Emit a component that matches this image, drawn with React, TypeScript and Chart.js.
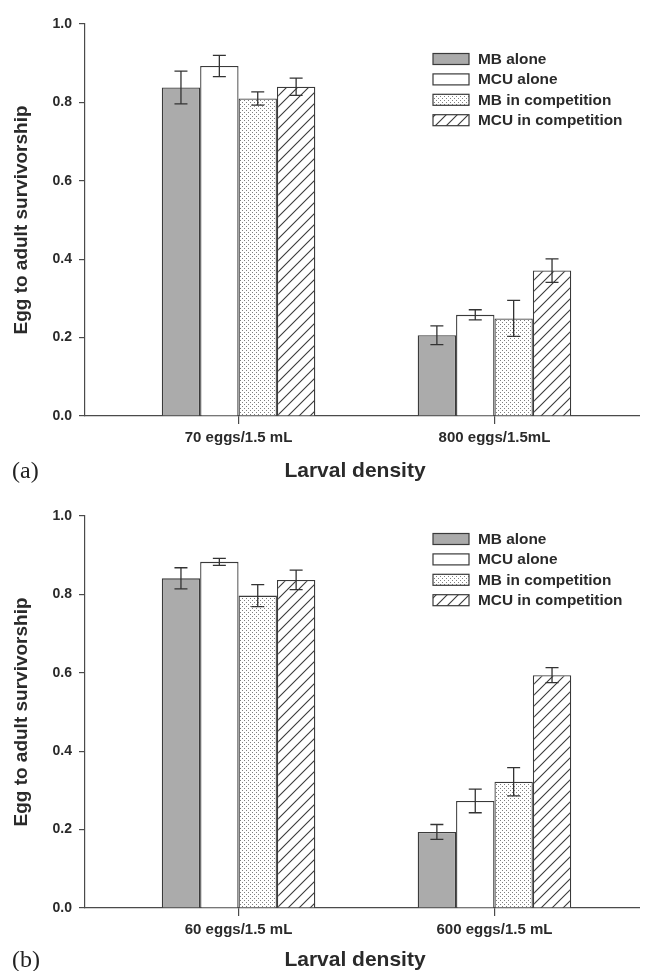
import React, { useEffect, useRef } from 'react';
import { Chart, registerables } from 'chart.js';
Chart.register(...registerables);

const seriesNames = ['MB alone', 'MCU alone', 'MB in competition', 'MCU in competition'];

const categoriesA = ['70 eggs/1.5 mL', '800 eggs/1.5mL'];
const mbAloneA = [0.838, 0.206];
const mcuAloneA = [0.893, 0.258];
const mbCompA = [0.81, 0.249];
const mcuCompA = [0.84, 0.371];
const mbAloneErrA = [0.042, 0.024];
const mcuAloneErrA = [0.027, 0.013];
const mbCompErrA = [0.017, 0.046];
const mcuCompErrA = [0.022, 0.03];

const categoriesB = ['60 eggs/1.5 mL', '600 eggs/1.5 mL'];
const mbAloneB = [0.841, 0.194];
const mcuAloneB = [0.883, 0.273];
const mbCompB = [0.797, 0.322];
const mcuCompB = [0.837, 0.594];
const mbAloneErrB = [0.027, 0.019];
const mcuAloneErrB = [0.009, 0.03];
const mbCompErrB = [0.028, 0.036];
const mcuCompErrB = [0.025, 0.019];

const yMin = 0;
const yMax = 1;
const yStep = 0.2;
const xTitle = 'Larval density';
const yTitle = 'Egg to adult survivorship';

const SANS = "'Liberation Sans', Arial, Helvetica, sans-serif";
const SERIF = "'Liberation Serif', 'Times New Roman', serif";
const INK = '#2a2a2a';
const LINE = '#4a4a4a';

function makeDots(): CanvasPattern | string {
  const c = document.createElement('canvas');
  c.width = 4; c.height = 4;
  const g = c.getContext('2d');
  if (!g) return '#ddd';
  g.fillStyle = '#ffffff';
  g.fillRect(0, 0, 4, 4);
  g.fillStyle = '#7f7f7f';
  g.fillRect(0, 0, 1, 1);
  g.fillRect(2, 2, 1, 1);
  return g.createPattern(c, 'repeat') || '#ddd';
}

function makeHatch(): CanvasPattern | string {
  const s = 11;
  const c = document.createElement('canvas');
  c.width = s; c.height = s;
  const g = c.getContext('2d');
  if (!g) return '#eee';
  g.fillStyle = '#ffffff';
  g.fillRect(0, 0, s, s);
  g.strokeStyle = '#3a3a3a';
  g.lineWidth = 1.1;
  g.beginPath();
  g.moveTo(-1, s + 1); g.lineTo(s + 1, -1);
  g.moveTo(-2, 2); g.lineTo(2, -2);
  g.moveTo(s - 2, s + 2); g.lineTo(s + 2, s - 2);
  g.stroke();
  return g.createPattern(c, 'repeat') || '#eee';
}

function buildConfig(
  height: number,
  categories: string[],
  values: number[][],
  errors: number[][],
  panel: string,
  legendTop: number,
  titleBase: number
): any {
  const fills = ['#ababab', '#ffffff', makeDots(), makeHatch()];
  const datasets = seriesNames.map((name, i) => ({
    label: name,
    data: values[i].map((v, j) => ({ x: j + 1, y: v })),
    backgroundColor: fills[i],
    borderColor: '#3a3a3a',
    borderWidth: 1.3,
    categoryPercentage: 0.6,
    barPercentage: 1.0,
  }));

  const errorPlugin = {
    id: 'errBars',
    afterDatasetsDraw(chart: any) {
      const ctx = chart.ctx;
      const ys = chart.scales.y;
      ctx.save();
      ctx.strokeStyle = '#333';
      ctx.lineWidth = 1.3;
      chart.data.datasets.forEach((_: any, i: number) => {
        const meta = chart.getDatasetMeta(i);
        meta.data.forEach((el: any, j: number) => {
          const v = values[i][j];
          const e = errors[i][j];
          const top = ys.getPixelForValue(v + e);
          const bot = ys.getPixelForValue(v - e);
          const x = el.x;
          const hw = 6.5;
          ctx.beginPath();
          ctx.moveTo(x, top); ctx.lineTo(x, bot);
          ctx.moveTo(x - hw, top); ctx.lineTo(x + hw, top);
          ctx.moveTo(x - hw, bot); ctx.lineTo(x + hw, bot);
          ctx.stroke();
        });
      });
      ctx.restore();
    },
  };

  const legendPlugin = {
    id: 'legendBox',
    afterDraw(chart: any) {
      const ctx = chart.ctx;
      const ca = chart.chartArea;
      ctx.save();
      chart.data.datasets.forEach((ds: any, i: number) => {
        const cy = ca.top + legendTop + i * 20.4;
        const bx = ca.left + 348;
        ctx.fillStyle = ds.backgroundColor;
        ctx.fillRect(bx, cy - 5.5, 36, 11);
        ctx.strokeStyle = '#3a3a3a';
        ctx.lineWidth = 1.2;
        ctx.strokeRect(bx, cy - 5.5, 36, 11);
        ctx.fillStyle = INK;
        ctx.font = `bold 15.4px ${SANS}`;
        ctx.textAlign = 'left';
        ctx.textBaseline = 'middle';
        ctx.fillText(ds.label, bx + 45, cy + 0.5);
      });
      ctx.restore();
    },
  };

  const textPlugin = {
    id: 'panelText',
    afterDraw(chart: any) {
      const ctx = chart.ctx;
      const ca = chart.chartArea;
      ctx.save();
      ctx.fillStyle = INK;
      ctx.textBaseline = 'alphabetic';
      ctx.font = `bold 21px ${SANS}`;
      ctx.textAlign = 'center';
      ctx.fillText(xTitle, ca.left + 270, ca.bottom + titleBase);
      ctx.font = `24px ${SERIF}`;
      ctx.textAlign = 'left';
      ctx.fillStyle = '#222';
      ctx.fillText(panel, 12, ca.bottom + titleBase + 1);
      ctx.restore();
    },
  };

  return {
    type: 'bar',
    data: { datasets },
    options: {
      animation: false,
      responsive: false,
      maintainAspectRatio: false,
      layout: { padding: { top: 24, left: 0, right: 0, bottom: 0 } },
      plugins: { legend: { display: false }, tooltip: { enabled: false }, title: { display: false } },
      scales: {
        x: {
          type: 'linear',
          min: 0.4,
          max: 2.6,
          offset: false,
          afterBuildTicks: (s: any) => {
            s.ticks = categories.map((_, i) => ({ value: i + 1 }));
          },
          afterFit: (s: any) => {
            s.height = height - 416;
            s.paddingLeft = 0;
            s.paddingRight = 0;
          },
          ticks: {
            autoSkip: false,
            maxRotation: 0,
            padding: 5,
            color: INK,
            font: { family: SANS, size: 15, weight: 'bold' },
            callback: (v: any) => categories[Math.round(Number(v)) - 1] ?? '',
          },
          grid: { drawOnChartArea: false, offset: false, tickLength: 8, color: LINE, lineWidth: 1.2 },
          border: { color: LINE, width: 1.2 },
        },
        y: {
          min: yMin,
          max: yMax,
          afterFit: (s: any) => {
            s.width = 85;
          },
          ticks: {
            stepSize: yStep,
            padding: 7,
            color: INK,
            font: { family: SANS, size: 14, weight: 'bold' },
            callback: (v: any) => Number(v).toFixed(1),
          },
          grid: { drawOnChartArea: false, tickLength: 6, color: LINE, lineWidth: 1.2 },
          border: { color: LINE, width: 1.2 },
          title: {
            display: true,
            text: yTitle,
            color: INK,
            font: { family: SANS, size: 19, weight: 'bold' },
            padding: { top: 10, bottom: 0 },
          },
        },
      },
    },
    plugins: [errorPlugin, legendPlugin, textPlugin],
  };
}

function Panel(props: {
  height: number;
  categories: string[];
  values: number[][];
  errors: number[][];
  panel: string;
  legendTop: number;
  titleBase: number;
}) {
  const ref = useRef<HTMLCanvasElement | null>(null);
  useEffect(() => {
    if (!ref.current) return;
    const chart = new Chart(
      ref.current,
      buildConfig(props.height, props.categories, props.values, props.errors, props.panel, props.legendTop, props.titleBase)
    );
    return () => chart.destroy();
  }, []);
  return <canvas ref={ref} width={648} height={props.height} style={{ display: 'block', width: 648, height: props.height }} />;
}

export default function App() {
  return (
    <div style={{ width: 648, margin: '-8px 0 0 -8px', background: '#fff' }}>
      <Panel
        height={492}
        categories={categoriesA}
        values={[mbAloneA, mcuAloneA, mbCompA, mcuCompA]}
        errors={[mbAloneErrA, mcuAloneErrA, mbCompErrA, mcuCompErrA]}
        panel="(a)"
        legendTop={35}
        titleBase={61}
      />
      <Panel
        height={479}
        categories={categoriesB}
        values={[mbAloneB, mcuAloneB, mbCompB, mcuCompB]}
        errors={[mbAloneErrB, mcuAloneErrB, mbCompErrB, mcuCompErrB]}
        panel="(b)"
        legendTop={23}
        titleBase={58}
      />
    </div>
  );
}
